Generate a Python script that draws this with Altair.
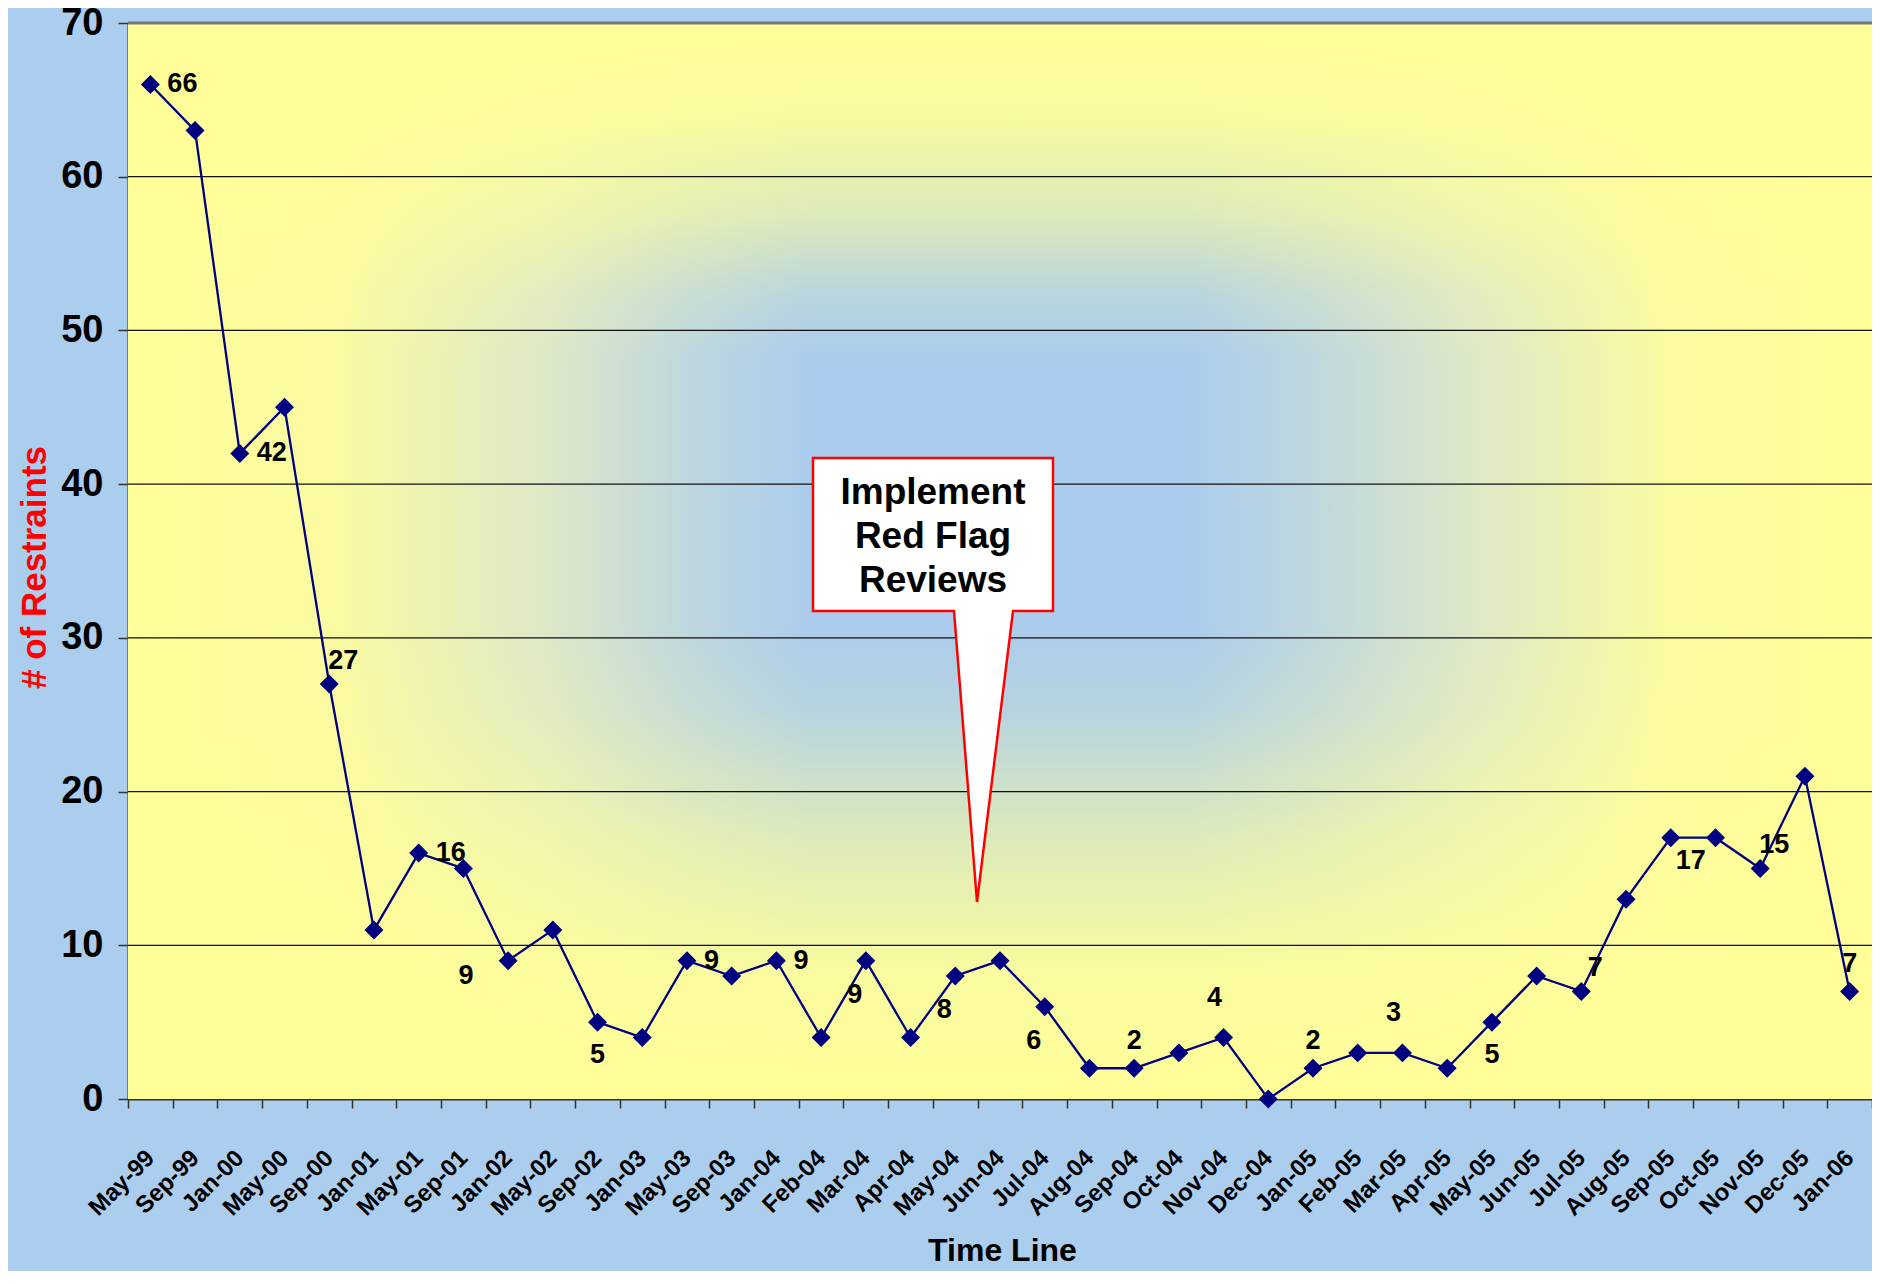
import altair as alt
import pandas as pd

# ---------------- data ----------------
months = ["May-99", "Sep-99", "Jan-00", "May-00", "Sep-00", "Jan-01", "May-01", "Sep-01",
          "Jan-02", "May-02", "Sep-02", "Jan-03", "May-03", "Sep-03", "Jan-04", "Feb-04",
          "Mar-04", "Apr-04", "May-04", "Jun-04", "Jul-04", "Aug-04", "Sep-04", "Oct-04",
          "Nov-04", "Dec-04", "Jan-05", "Feb-05", "Mar-05", "Apr-05", "May-05", "Jun-05",
          "Jul-05", "Aug-05", "Sep-05", "Oct-05", "Nov-05", "Dec-05", "Jan-06"]
restraints = [66, 63, 42, 45, 27, 11, 16, 15, 9, 11, 5, 4, 9, 8, 9, 4, 9, 4, 8, 9,
              6, 2, 2, 3, 4, 0, 2, 3, 3, 2, 5, 8, 7, 13, 17, 17, 15, 21, 7]
y_ticks = [0, 10, 20, 30, 40, 50, 60, 70]

# which points carry a value label, grouped by where the label sits
label_groups = {
    "right": ["May-99", "Jan-00", "May-01", "May-03", "Jan-04"],
    "above": ["Sep-04", "Jan-05", "Jan-06"],
    "above_left": ["Nov-04", "Mar-05"],
    "above_right": ["Sep-00", "Jul-05", "Nov-05"],
    "below": ["Sep-02", "May-05"],
    "below_left": ["Mar-04", "May-04", "Jul-04"],
    "far_left": ["Jan-02"],
    "below_right": ["Sep-05"],
}
callout_lines = ["Implement", "Red Flag", "Reviews"]

# ---------------- styles ----------------
W, H = 1744, 1076
SANS = "'Liberation Sans', Arial, sans-serif"
NAVY = "#000080"
YELLOW = "#FFFF99"

placement_style = {
    "right": dict(dx=17, dy=0, align="left"),
    "above": dict(dx=0, dy=-27, align="center"),
    "above_left": dict(dx=-9, dy=-40, align="center"),
    "above_right": dict(dx=14, dy=-23, align="center"),
    "below": dict(dx=0, dy=33, align="center"),
    "below_left": dict(dx=-11, dy=34, align="center"),
    "far_left": dict(dx=-42, dy=15, align="center"),
    "below_right": dict(dx=20, dy=23, align="center"),
}

df = pd.DataFrame({"month": months, "restraints": restraints})
one = pd.DataFrame({"k": [0]})
grid_df = pd.DataFrame({"tick": y_ticks[1:-1]})
top_df = pd.DataFrame({"tick": y_ticks[-1:]})

x_scale = alt.Scale(type="band", domain=months, paddingInner=0, paddingOuter=0)
x_axis = alt.Axis(
    labelAngle=315, labelAlign="right", labelBaseline="middle",
    labelFont=SANS, labelFontWeight="bold", labelFontSize=24, labelColor="black",
    labelPadding=46, labelOverlap=False, labelLimit=0,
    tickBand="extent", tickSize=9, tickColor="#333333", tickWidth=1.5,
    domainColor="#333333", domainWidth=2,
    titleFont=SANS, titleFontWeight="bold", titleFontSize=32, titleColor="black",
    titleX=874, titleY=161, titleAlign="center", titleBaseline="alphabetic",
    grid=False,
)
y_scale = alt.Scale(domain=[0, 70], nice=False, zero=True)
y_axis = alt.Axis(
    values=y_ticks, grid=False,
    labelFont=SANS, labelFontWeight="bold", labelFontSize=38, labelColor="black",
    labelPadding=15, tickSize=10, tickColor="#333333", tickWidth=1.5,
    domainColor="#333333", domainWidth=2,
    titleFont=SANS, titleFontWeight="bold", titleFontSize=35, titleColor="#FF0000",
    titleAngle=270, titleX=-94, titleY=544, titleAlign="center", titleBaseline="middle",
)


def X():
    return alt.X("month:N", sort=months, scale=x_scale, axis=x_axis, title="Time Line")


def Y(field):
    return alt.Y(f"{field}:Q", scale=y_scale, axis=y_axis, title="# of Restraints")


# ---------------- background gradient ----------------
h_grad = alt.LinearGradient(
    gradient="linear", x1=0, y1=0, x2=1, y2=0,
    stops=[
        alt.GradientStop(color=YELLOW, offset=0),
        alt.GradientStop(color="#FAFAA2", offset=0.12),
        alt.GradientStop(color="#DDE8C8", offset=0.24),
        alt.GradientStop(color="#BFD7DE", offset=0.32),
        alt.GradientStop(color="#ABCCEC", offset=0.39),
        alt.GradientStop(color="#ABCCEC", offset=0.61),
        alt.GradientStop(color="#BFD7DE", offset=0.68),
        alt.GradientStop(color="#DDE8C8", offset=0.77),
        alt.GradientStop(color="#FAFAA2", offset=0.88),
        alt.GradientStop(color=YELLOW, offset=1),
    ],
)
v_grad = alt.LinearGradient(
    gradient="linear", x1=0, y1=0, x2=0, y2=1,
    stops=[
        alt.GradientStop(color="rgba(255,255,153,1)", offset=0),
        alt.GradientStop(color="rgba(255,255,153,0.9)", offset=0.09),
        alt.GradientStop(color="rgba(255,255,153,0.58)", offset=0.18),
        alt.GradientStop(color="rgba(255,255,153,0.18)", offset=0.25),
        alt.GradientStop(color="rgba(255,255,153,0)", offset=0.31),
        alt.GradientStop(color="rgba(255,255,153,0)", offset=0.56),
        alt.GradientStop(color="rgba(255,255,153,0.15)", offset=0.64),
        alt.GradientStop(color="rgba(255,255,153,0.6)", offset=0.76),
        alt.GradientStop(color="rgba(255,255,153,0.92)", offset=0.88),
        alt.GradientStop(color="rgba(255,255,153,1)", offset=1),
    ],
)

bg1 = alt.Chart(one).mark_rect(fill=h_grad, strokeWidth=0).encode(
    x=alt.value(0), x2=alt.value(W), y=alt.value(0), y2=alt.value(H))
bg2 = alt.Chart(one).mark_rect(fill=v_grad, strokeWidth=0).encode(
    x=alt.value(0), x2=alt.value(W), y=alt.value(0), y2=alt.value(H))

grid = alt.Chart(grid_df).mark_rule(color="#111111", strokeWidth=1.2).encode(y=Y("tick"))
top = alt.Chart(top_df).mark_rule(color="#777777", strokeWidth=3).encode(y=Y("tick"))

line = alt.Chart(df).mark_line(color=NAVY, strokeWidth=2.3).encode(x=X(), y=Y("restraints"))
pts = alt.Chart(df).mark_point(shape="diamond", filled=True, size=360, color=NAVY, opacity=1).encode(
    x=X(), y=Y("restraints"))

label_layers = []
for name, ms in label_groups.items():
    st = placement_style[name]
    label_layers.append(
        alt.Chart(df)
        .transform_filter(alt.FieldOneOfPredicate(field="month", oneOf=ms))
        .mark_text(font=SANS, fontWeight="bold", fontSize=27, color="black",
                   baseline="middle", **st)
        .encode(x=X(), y=Y("restraints"), text="restraints:Q")
    )

# ---------------- callout ----------------
bx0, bx1, by0, by1 = 685, 925, 435, 588        # box (plot pixels)
px0, px1, tipx, tipy = 826, 885, 849, 879       # pointer base and tip
cx, cy = (bx0 + bx1) / 2, (by0 + tipy) / 2
half = (tipy - by0) / 2


def n(px, py):
    return f"{(px - cx) / half:.4f},{(py - cy) / half:.4f}"


callout_path = ("M" + n(bx0, by0) + "L" + n(bx1, by0) + "L" + n(bx1, by1) + "L" + n(px1, by1)
                + "L" + n(tipx, tipy) + "L" + n(px0, by1) + "L" + n(bx0, by1) + "Z")
callout = alt.Chart(one).mark_point(
    shape=callout_path, size=(2 * half) ** 2, filled=True, fill="white", fillOpacity=1,
    stroke="#FF0000", strokeWidth=2.5, strokeOpacity=1, opacity=1,
).encode(x=alt.value(cx), y=alt.value(cy))
callout_text = alt.Chart(one).mark_text(
    text=callout_lines, font=SANS, fontWeight="bold", fontSize=37, lineHeight=44,
    color="black", align="center", baseline="middle",
).encode(x=alt.value((bx0 + bx1) / 2), y=alt.value(470))

chart = (
    alt.layer(bg1, bg2, grid, top, line, pts, *label_layers, callout, callout_text)
    .properties(
        width=W, height=H,
        autosize=alt.AutoSizeParams(type="none"),
        padding={"left": 120, "top": 15, "right": 0, "bottom": 172},
        background="#ABCDEE",
    )
    .configure_view(strokeWidth=0)
)

chart.save("out.html", embed_options={"renderer": "svg", "actions": False})
